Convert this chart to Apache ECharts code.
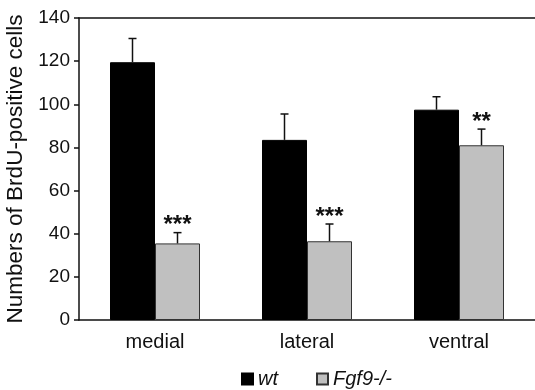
<!DOCTYPE html>
<html lang="en">
<head>
    <meta charset="utf-8" />
    <title>BrdU-positive cells</title>
    <script type="text/javascript" src="https://cdn.jsdelivr.net/npm/echarts@6/dist/echarts.min.js"></script>
    <style type="text/css">
        html, body { margin: 0; padding: 0; background: #fff; }
    </style>
</head>
<body>
    <div id="main" style="width:535px;height:390px;"></div>
    <script type="text/javascript">

        var categories = ['medial', 'lateral', 'ventral'];
        var yTicks = [0, 20, 40, 60, 80, 100, 120, 140];
        var wtMean = [119.5, 83.5, 97.5];
        var wtErr = [11, 12, 6];
        var koMean = [35.5, 36.5, 81];
        var koErr = [5, 8, 7.5];
        var koStars = ['***', '***', '**'];

        var BAR_W = 45;
        var font = 'Liberation Sans, Arial, sans-serif';
        var ink = '#111';

        // error bar (upper half only) + optional stars, shifted onto its bar
        function errRenderer(side, stars) {
            return function (params, api) {
                var i = api.value(0), m = api.value(1), e = api.value(2);
                var p0 = api.coord([i, m]);
                var p1 = api.coord([i, m + e]);
                var x = p0[0] + side * BAR_W / 2;
                var kids = [
                    { type: 'line', shape: { x1: x, y1: p0[1], x2: x, y2: p1[1] }, style: { stroke: ink, lineWidth: 1.5 } },
                    { type: 'line', shape: { x1: x - 4, y1: p1[1], x2: x + 4, y2: p1[1] }, style: { stroke: ink, lineWidth: 1.5 } }
                ];
                if (stars) {
                    kids.push({
                        type: 'text',
                        style: {
                            x: x, y: p1[1] + 5, text: stars[params.dataIndex],
                            align: 'center', verticalAlign: 'bottom',
                            font: 'bold 24px ' + font, fill: ink
                        }
                    });
                }
                return { type: 'group', children: kids };
            };
        }

        function errData(mean, err) {
            return mean.map(function (v, i) { return [i, v, err[i]]; });
        }

        var myChart = echarts.init(document.getElementById('main'));
        var option = {
            animation: false,
            textStyle: { fontFamily: font },
            grid: { left: 79, right: 0, top: 18, bottom: 70, outerBoundsMode: 'none', containLabel: false },
            legend: {
                left: 236, top: 364,
                itemWidth: 11, itemHeight: 11, itemGap: 38,
                data: [
                    { name: 'wt', icon: 'rect' },
                    { name: 'Fgf9-/-', icon: 'rect' }
                ],
                textStyle: { fontSize: 20, fontStyle: 'italic', color: ink, fontFamily: font }
            },
            xAxis: [{
                type: 'category',
                data: categories,
                axisLine: { lineStyle: { color: ink, width: 1.5 } },
                axisTick: { length: 5, lineStyle: { color: ink, width: 1.5 } },
                axisLabel: { fontSize: 20, color: ink, margin: 12 }
            }, {
                type: 'category',
                position: 'top',
                data: categories,
                axisLine: { lineStyle: { color: ink, width: 1.5 } },
                axisTick: { show: false },
                axisLabel: { show: false }
            }],
            yAxis: {
                type: 'value',
                min: yTicks[0],
                max: yTicks[yTicks.length - 1],
                interval: 20,
                name: 'Numbers of BrdU-positive cells',
                nameLocation: 'middle',
                nameGap: 50,
                nameTextStyle: { fontSize: 22.5, color: ink },
                axisLine: { show: true, lineStyle: { color: ink, width: 1.5 } },
                axisTick: { show: true, length: 5, lineStyle: { color: ink, width: 1.5 } },
                axisLabel: { fontSize: 19, color: ink, margin: 9 },
                splitLine: { show: false }
            },
            series: [{
                name: 'wt',
                type: 'bar',
                data: wtMean,
                barWidth: BAR_W,
                barGap: '0%',
                itemStyle: { color: '#000', borderColor: '#000', borderWidth: 1 }
            }, {
                name: 'Fgf9-/-',
                type: 'bar',
                data: koMean,
                barWidth: BAR_W,
                barGap: '0%',
                itemStyle: { color: '#c0c0c0', borderColor: '#333', borderWidth: 1 }
            }, {
                type: 'custom',
                renderItem: errRenderer(-1, null),
                data: errData(wtMean, wtErr),
                z: 5
            }, {
                type: 'custom',
                renderItem: errRenderer(1, koStars),
                data: errData(koMean, koErr),
                z: 5
            }]
        };
        myChart.setOption(option);
    </script>
</body>
</html>
